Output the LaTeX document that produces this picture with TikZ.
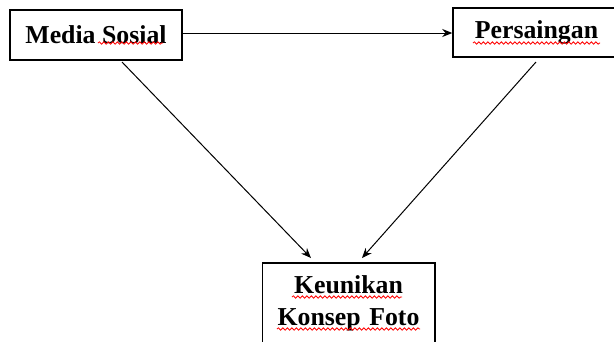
\documentclass[tikz,border=0pt]{standalone}
\usepackage{fontspec}
\setmainfont{Liberation Serif}
\usetikzlibrary{arrows.meta,decorations.pathmorphing}

\tikzset{
    var node/.style={rectangle,draw,line width=1.5pt,inner sep=0,
        font=\bfseries\fontsize{25.8}{32}\selectfont},
    link/.style={line width=1pt,-{Stealth[length=10pt,width=8pt]}},
    wavy/.style={red,line width=0.8pt,decorate,
        decoration={snake,amplitude=1.2pt,segment length=4.5pt}}
    }

\begin{document}
\begin{tikzpicture}[x=1pt,y=-1pt]
                \useasboundingbox (0,0) rectangle (614,341);
                \clip (0,0) rectangle (614,341);
                % variabel
                \node(media)[var node, minimum width=172, minimum height=50] at (96,35) {Media Sosial};
                \node(saing)[var node, minimum width=167, minimum height=49] at (536.5,32.5) {Persaingan};
                \node(unik)[var node, draw=none, anchor=north, text width=147, align=center,
                    inner sep=12] at (348.5,263) {Keunikan\\Konsep Foto};
                \draw[line width=1.5pt] (unik.north west) rectangle (unik.east |- 0,360);
                % panah
                \coordinate (m) at (122,62);
                \coordinate (s) at (536,62);
                \coordinate (u1) at (311,258);
                \coordinate (u2) at (362,258);
                \draw[link] (media.east |- 0,33) -- (saing.west |- 0,33);
                \draw[link] (m) -- (u1);
                \draw[link] (s) -- (u2);
                % garis ejaan
                \draw[wavy] (98,43) -- (163,43);
                \draw[wavy] (473,43) -- (600,43);
                \draw[wavy] (292,297) -- (402,297);
                \draw[wavy] (277,329) -- (420,329);
            \end{tikzpicture}
\end{document}
